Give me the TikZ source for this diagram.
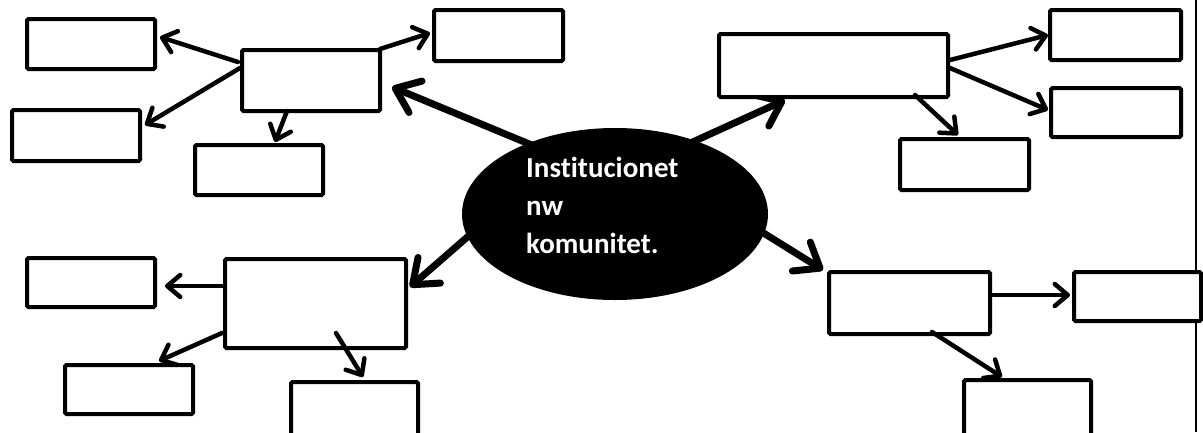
\documentclass[tikz,border=0pt]{standalone}
\usepackage{fontspec}
\setmainfont[Ligatures=NoCommon]{Carlito}
\usetikzlibrary{arrows.meta,calc,shapes.geometric}
\pgfdeclarelayer{bg}
\pgfsetlayers{bg,main}
\tikzset{
  box/.style={draw, line width=4pt, fill=white, rectangle, rounded corners=1.5pt,
              inner sep=0pt, outer sep=0pt, anchor=north west},
  thinarr/.style={line width=4.5pt, line cap=round,
                  -{Straight Barb[length=13pt,width=22pt,round]}},
  thickarr/.style={line width=7pt, line cap=round,
                   -{Straight Barb[length=22pt,width=34pt,round]}},
}
\begin{document}
\begin{tikzpicture}[x=1pt,y=-1pt]
\useasboundingbox (0,0) rectangle (1203,432);
\clip (0,0) rectangle (1203,432);
\draw[line width=1.5pt] (1196,0) -- (1196,432);
% boxes
\node[box, minimum width=128pt, minimum height=50pt] (A1) at (27,19) {};
\node[box, minimum width=138pt, minimum height=61pt] (A)  at (242,50) {};
\node[box, minimum width=129pt, minimum height=51pt] (A2) at (434,10) {};
\node[box, minimum width=128pt, minimum height=51pt] (A3) at (12,110) {};
\node[box, minimum width=128pt, minimum height=50pt] (A4) at (195,145) {};
\node[box, minimum width=229pt, minimum height=63pt] (B)  at (719,34) {};
\node[box, minimum width=131pt, minimum height=50pt] (B1) at (1050,10) {};
\node[box, minimum width=130pt, minimum height=49pt] (B2) at (1051,88) {};
\node[box, minimum width=129pt, minimum height=51pt] (B3) at (900,139) {};
\node[box, minimum width=181pt, minimum height=89pt] (C)  at (225,259) {};
\node[box, minimum width=128pt, minimum height=49pt] (C1) at (27,258) {};
\node[box, minimum width=128pt, minimum height=49pt] (C2) at (65,365) {};
\node[box, minimum width=127pt, minimum height=63pt] (C3) at (291,382) {};
\node[box, minimum width=161pt, minimum height=62pt] (D)  at (829,272) {};
\node[box, minimum width=127pt, minimum height=49pt] (D1) at (1074,272) {};
\node[box, minimum width=127pt, minimum height=65pt] (D2) at (964,380) {};
% centre ellipse
\node[ellipse, fill=black, minimum width=306pt, minimum height=172pt, inner sep=0pt] (E) at (615,214) {};
\node[text=white, font=\bfseries\fontsize{29}{38}\selectfont, align=left,
      anchor=north west, inner sep=0pt] (T) at (526,157) {Institucionet\\nw\\komunitet.};
% thin arrows
\draw[thinarr] ($(A.north west)+(-4,12)$) -- ($(A1.north east)+(5,18)$);
\draw[thinarr] ($(A.north west)+(-2,18)$) -- ($(A3.north east)+(5,15)$);
\draw[thinarr] ($(A.north east)+(0,-1)$) -- ($(A2.north west)+(-4,23)$);
\draw[thinarr] ($(A.south west)+(45,0)$) -- ($(A4.north west)+(80,-3)$);
\draw[thinarr] ($(B.north east)+(2,26)$) -- ($(B1.north west)+(-2,25)$);
\draw[thinarr] ($(B.north east)+(2,34)$) -- ($(B2.north west)+(-3,22)$);
\draw[thinarr] ($(B.south west)+(196,-2)$) -- ($(B3.north west)+(58,-4)$);
\draw[thinarr] ($(C.north west)+(-3,27)$) -- ($(C1.north east)+(10,28)$);
\draw[thinarr] ($(C.south west)+(-3,-15)$) -- ($(C2.north west)+(94,-4)$);
\draw[thinarr] ($(C.south west)+(111,-15)$) -- ($(C3.north west)+(72,-5)$);
\draw[thinarr] ($(D.north east)+(2,23)$) -- ($(D1.north west)+(-4,23)$);
\draw[thinarr] ($(D.south west)+(103,-2)$) -- ($(D2.north west)+(38,-3)$);
% thick arrows from the ellipse
\begin{pgfonlayer}{bg}
\draw[thickarr] ($(E.center)+(-52,-56)$) -- ($(A.north east)+(12,37)$);
\draw[thickarr] ($(E.center)+(49,-59)$) -- ($(B.south west)+(66,3)$);
\draw[thickarr] ($(E.center)+(-104,-15)$) -- ($(C.north east)+(4,28)$);
\draw[thickarr] ($(E.center)+(105,-8)$) -- ($(D.north west)+(-6,-2)$);
\end{pgfonlayer}
\end{tikzpicture}
\end{document}
